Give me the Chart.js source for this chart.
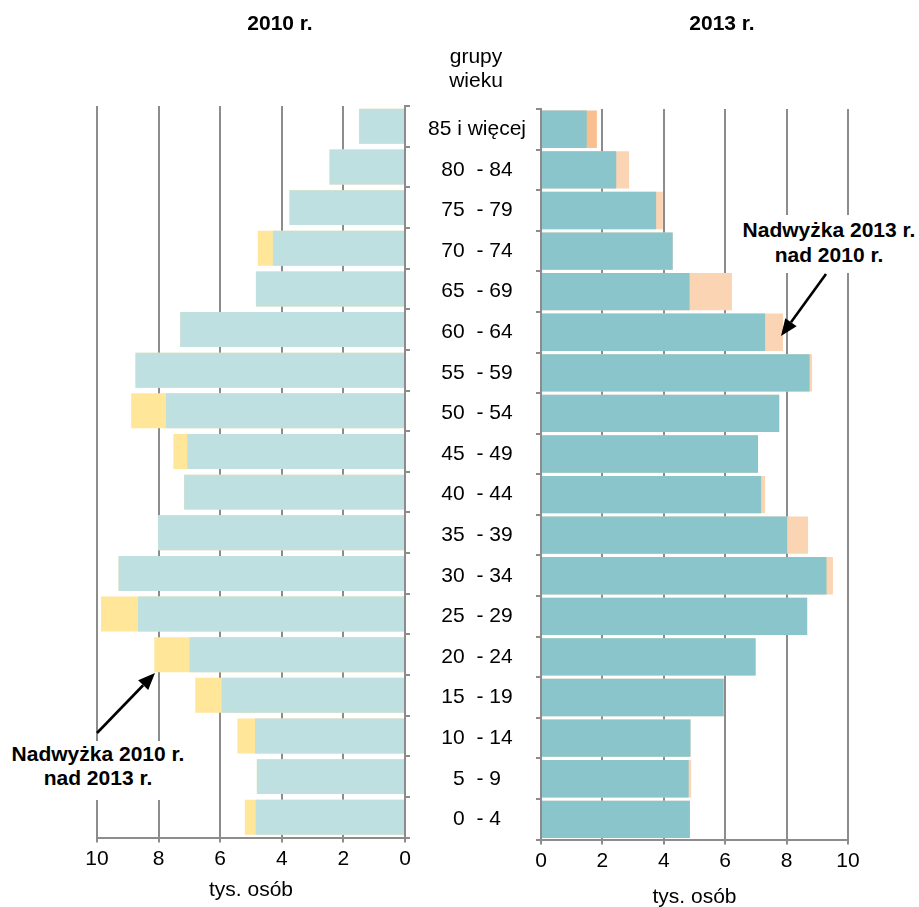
<!DOCTYPE html>
<html lang="pl">
<head>
<meta charset="utf-8">
<title>Piramida wieku 2010 / 2013</title>
<script src="https://cdn.jsdelivr.net/npm/chart.js@4.4.1/dist/chart.umd.min.js"></script>
<style>
  html, body { margin: 0; padding: 0; background: #fff; }
  body { width: 919px; height: 907px; position: relative; overflow: hidden; font-family: 'Liberation Sans', Arial, sans-serif; color: #000; }
  canvas { position: absolute; top: 0; }
  #left { left: 0; }
  #right { left: 410px; }
  .lbl { position: absolute; white-space: nowrap; transform: translateX(-50%); text-align: center; font-size: 21px; line-height: 24px; }
  .bold { font-weight: bold; }
  .note { background: #fff; z-index: 2; }
</style>
</head>
<body>
<div id="wrapLeft"><canvas id="left" width="420" height="907"></canvas></div>
<div id="wrapRight"><canvas id="right" width="509" height="912"></canvas></div>

<div class="lbl bold" style="left:280px; top:11px;">2010 r.</div>
<div class="lbl bold" style="left:722px; top:11px;">2013 r.</div>
<div class="lbl" style="left:476px; top:44px;">grupy<br>wieku</div>
<div class="lbl bold note" style="left:829px; top:215px; padding:2px 4px 6px; line-height:25px;">Nadwyżka 2013 r.<br>nad 2010 r.</div>
<div class="lbl bold note" style="left:98px; top:741px; padding:1px 4px 10px; line-height:24px;">Nadwyżka 2010 r.<br>nad 2013 r.</div>

<script>
// grupy wieku, od najstarszej (góra) do najmłodszej (dół)
const AGE_GROUPS = ['85 i więcej', '80  - 84', '75  - 79', '70  - 74', '65  - 69', '60  - 64', '55  - 59',
  '50  - 54', '45  - 49', '40  - 44', '35  - 39', '30  - 34', '25  - 29', '20  - 24', '15  - 19',
  '10  - 14', '5  - 9', '0  - 4'];

// ludność w tys. osób
const POP_2010 = [1.49, 2.45, 3.75, 4.78, 4.84, 7.30, 8.75, 8.89, 7.52, 7.17, 8.02, 9.30, 9.87, 8.14, 6.81, 5.44, 4.81, 5.20];
const POP_2013 = [1.82, 2.87, 3.97, 4.29, 6.22, 7.88, 8.83, 7.76, 7.07, 7.30, 8.70, 9.51, 8.67, 6.99, 5.95, 4.87, 4.89, 4.85];

const X_TICKS = [0, 2, 4, 6, 8, 10];

const GRID = '#8c8c8c';
const COMMON = POP_2010.map((v, i) => Math.min(v, POP_2013[i]));

Chart.defaults.font.family = "'Liberation Sans', Arial, sans-serif";
Chart.defaults.font.size = 21;
Chart.defaults.color = '#000';

// strzałka do opisu nadwyżki
function arrowPlugin(x1, y1, x2, y2) {
  return {
    id: 'arrow',
    afterDraw(chart) {
      const ctx = chart.ctx;
      const ang = Math.atan2(y2 - y1, x2 - x1);
      const head = 17, half = 7;
      const bx = x2 - head * Math.cos(ang), by = y2 - head * Math.sin(ang);
      ctx.save();
      ctx.strokeStyle = '#000';
      ctx.fillStyle = '#000';
      ctx.lineWidth = 2.6;
      ctx.beginPath();
      ctx.moveTo(x1, y1);
      ctx.lineTo(bx, by);
      ctx.stroke();
      ctx.beginPath();
      ctx.moveTo(x2, y2);
      ctx.lineTo(bx + half * Math.sin(ang), by - half * Math.cos(ang));
      ctx.lineTo(bx - half * Math.sin(ang), by + half * Math.cos(ang));
      ctx.closePath();
      ctx.fill();
      ctx.restore();
    },
  };
}

function xScale(reverse, titlePad) {
  return {
    type: 'linear',
    min: 0,
    max: 10,
    reverse,
    afterBuildTicks: (s) => { s.ticks = X_TICKS.map((v) => ({ value: v })); },
    ticks: { padding: 4, font: { size: 21 } },
    grid: { color: GRID, lineWidth: 2, tickLength: 5 },
    border: { color: GRID, width: 2 },
    title: { display: true, text: 'tys. osób', font: { size: 21 }, padding: { top: titlePad, bottom: 0 } },
  };
}

function barSet(data, color, pct) {
  return { data, backgroundColor: color, grouped: false, barPercentage: pct, categoryPercentage: 1, borderWidth: 0 };
}

const baseOptions = {
  indexAxis: 'y',
  responsive: false,
  animation: false,
  events: [],
  plugins: { legend: { display: false }, tooltip: { enabled: false } },
};

// 2010 r. - lewa strona, oś odwrócona
new Chart(document.getElementById('left'), {
  type: 'bar',
  data: {
    labels: AGE_GROUPS,
    datasets: [
      barSet(COMMON, '#bfe0e1', 0.86),
      barSet(POP_2010, '#ffe699', 0.86),
    ],
  },
  options: {
    ...baseOptions,
    layout: { padding: { left: 97, top: 106, right: 0, bottom: 4 } },
    scales: {
      x: xScale(true, 2),
      y: {
        position: 'right',
        ticks: { display: false },
        grid: { drawOnChartArea: false, color: GRID, lineWidth: 2, tickLength: 5 },
        border: { color: GRID, width: 2 },
        afterFit: (s) => { s.width = 15; },
      },
    },
  },
  plugins: [arrowPlugin(97, 733, 155, 673)],
});

// 2013 r. - prawa strona, z etykietami grup wieku
new Chart(document.getElementById('right'), {
  type: 'bar',
  data: {
    labels: AGE_GROUPS,
    datasets: [
      barSet(COMMON, '#89c5ca', 0.92),
      barSet(POP_2013, POP_2013.map((v, i) => (i === 0 ? '#f9bf8f' : '#fbd4b4')), 0.92),
    ],
  },
  options: {
    ...baseOptions,
    layout: { padding: { left: 0, top: 109, right: 71, bottom: 2 } },
    scales: {
      x: xScale(false, 7),
      y: {
        position: 'left',
        ticks: { crossAlign: 'center', padding: 10, autoSkip: false, font: { size: 21 } },
        grid: { drawOnChartArea: false, color: GRID, lineWidth: 2, tickLength: 5 },
        border: { color: GRID, width: 2 },
        afterFit: (s) => { s.width = 131; },
      },
    },
  },
  plugins: [arrowPlugin(416, 274, 371, 336)],
});
</script>
</body>
</html>
